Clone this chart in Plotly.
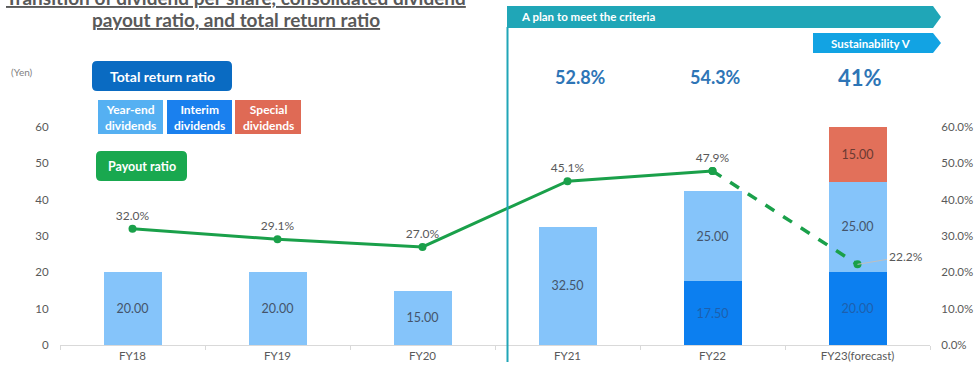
import plotly.graph_objects as go

# ---------------- data ----------------
categories = ["FY18", "FY19", "FY20", "FY21", "FY22", "FY23(forecast)"]
year_end = [20.0, 20.0, 15.0, 32.5, 25.0, 25.0]
interim = [None, None, None, None, 17.5, 20.0]
special = [None, None, None, None, None, 15.0]
payout_ratio = [32.0, 29.1, 27.0, 45.1, 47.9, 22.2]
total_return_cats = ["FY21", "FY22", "FY23(forecast)"]
total_return = ["52.8%", "54.3%", "41%"]
left_ticks = [0, 10, 20, 30, 40, 50, 60]

# ---------------- geometry helpers (pixel -> paper) ----------------
W, H = 978, 372
ML, MR, MT, MB = 60, 48, 127, 27
PW, PH = W - ML - MR, H - MT - MB


def X(px):
    return (px - ML) / PW


def Y(py):
    return (H - MB - py) / PH


def rrect(x0, y0, x1, y1, r):
    rx, ry = r / PW, r / PH
    a0, a1, b0, b1 = X(x0), X(x1), Y(y1), Y(y0)  # b0 bottom, b1 top
    return (f"M{a0+rx},{b0} L{a1-rx},{b0} Q{a1},{b0} {a1},{b0+ry} "
            f"L{a1},{b1-ry} Q{a1},{b1} {a1-rx},{b1} L{a0+rx},{b1} "
            f"Q{a0},{b1} {a0},{b1-ry} L{a0},{b0+ry} Q{a0},{b0} {a0+rx},{b0} Z")


def banner(x0, y0, x1, tip, y1):
    ym = (y0 + y1) / 2
    return (f"M{X(x0)},{Y(y0)} L{X(x1)},{Y(y0)} L{X(tip)},{Y(ym)} "
            f"L{X(x1)},{Y(y1)} L{X(x0)},{Y(y1)} Z")


FONT = "Lato"
C_YE = "#85C4FA"
C_IN = "#0C7FF0"
C_SP = "#E2705A"
C_GREEN = "#1AA04A"
C_TEAL = "#20A6B7"

fig = go.Figure()

fig.add_trace(go.Bar(x=categories, y=interim, marker_color=C_IN, width=0.4,
                     text=[f"{v:.2f}" if v else "" for v in interim],
                     textposition="inside", insidetextanchor="middle",
                     textfont=dict(color="#1D5FAE", size=12.5, family=FONT),
                     marker_line_width=0))
fig.add_trace(go.Bar(x=categories, y=year_end, marker_color=C_YE, width=0.4,
                     text=[f"{v:.2f}" for v in year_end],
                     textposition="inside", insidetextanchor="middle",
                     textfont=dict(color="#44546A", size=12.5, family=FONT),
                     marker_line_width=0))
fig.add_trace(go.Bar(x=categories, y=special, marker_color=C_SP, width=0.4,
                     text=[f"{v:.2f}" if v else "" for v in special],
                     textposition="inside", insidetextanchor="middle",
                     textfont=dict(color="#6A3A32", size=12.5, family=FONT),
                     marker_line_width=0))

# payout ratio: solid part FY18-FY22
fig.add_trace(go.Scatter(x=categories[:5], y=payout_ratio[:5], yaxis="y2",
                         mode="lines+markers+text",
                         line=dict(color=C_GREEN, width=3),
                         marker=dict(color=C_GREEN, size=8),
                         text=[f"{v:.1f}%" for v in payout_ratio[:5]],
                         textposition="top center",
                         textfont=dict(color="#595959", size=12, family=FONT),
                         cliponaxis=False))
# dashed forecast part
fig.add_trace(go.Scatter(x=categories[4:], y=payout_ratio[4:], yaxis="y2",
                         mode="lines+markers",
                         line=dict(color=C_GREEN, width=3.5, dash="dash"),
                         marker=dict(color=C_GREEN, size=8),
                         cliponaxis=False))

shapes = []
annotations = []

# title (first line is cut at the top edge, as in the reference)
annotations.append(dict(xref="paper", yref="paper", x=X(236), y=Y(-3),
                        text="<b><u>Transition of dividend per share, consolidated dividend</u></b>",
                        showarrow=False, font=dict(size=19, color="#595959", family=FONT),
                        xanchor="center", yanchor="middle"))
annotations.append(dict(xref="paper", yref="paper", x=X(236), y=Y(20),
                        text="<b><u>payout ratio, and total return ratio</u></b>",
                        showarrow=False, font=dict(size=19, color="#595959", family=FONT),
                        xanchor="center", yanchor="middle"))

# (Yen)
annotations.append(dict(xref="paper", yref="paper", x=X(22), y=Y(72), text="(Yen)",
                        showarrow=False, font=dict(size=10, color="#7F7F7F", family=FONT),
                        xanchor="center", yanchor="middle"))

# legend boxes
legend_boxes = [
    (92, 61, 232, 91, 5, "#0A6BC2", "<b>Total return ratio</b>", 14),
    (98, 100, 163, 134, 0, "#55B0F2", "<b>Year-end<br>dividends</b>", 12),
    (167, 100, 232, 134, 0, "#1A80EE", "<b>Interim<br>dividends</b>", 12),
    (235, 100, 301, 134, 0, "#DF6A55", "<b>Special<br>dividends</b>", 12),
    (96, 151, 187, 181, 5, "#19A84F", "<b>Payout ratio</b>", 12.5),
]
for x0, y0, x1, y1, r, col, txt, fs in legend_boxes:
    if r:
        shapes.append(dict(type="path", xref="paper", yref="paper",
                           path=rrect(x0, y0, x1, y1, r), fillcolor=col, line_width=0))
    else:
        shapes.append(dict(type="rect", xref="paper", yref="paper",
                           x0=X(x0), x1=X(x1), y0=Y(y1), y1=Y(y0), fillcolor=col, line_width=0))
    annotations.append(dict(xref="paper", yref="paper", x=X((x0 + x1) / 2), y=Y((y0 + y1) / 2),
                            text=txt, showarrow=False, xanchor="center", yanchor="middle",
                            font=dict(size=fs, color="white", family=FONT)))

# banners
shapes.append(dict(type="path", xref="paper", yref="paper",
                   path=banner(507, 6, 933, 941, 28), fillcolor=C_TEAL, line_width=0))
shapes.append(dict(type="path", xref="paper", yref="paper",
                   path=banner(813, 33, 933, 941, 53), fillcolor="#12A3E3", line_width=0))
shapes.append(dict(type="line", xref="paper", yref="paper",
                   x0=X(507.5), x1=X(507.5), y0=Y(27), y1=Y(362),
                   line=dict(color=C_TEAL, width=2)))
annotations.append(dict(xref="paper", yref="paper", x=X(519), y=Y(17),
                        text="<b>A plan to meet the criteria</b>", showarrow=False,
                        xanchor="left", yanchor="middle",
                        font=dict(size=11.5, color="white", family=FONT)))
annotations.append(dict(xref="paper", yref="paper", x=X(871), y=Y(43),
                        text="<b>Sustainability V</b>", showarrow=False,
                        xanchor="center", yanchor="middle",
                        font=dict(size=11.5, color="white", family=FONT)))

# total return ratios
tr_shift = [13, 3, 2]
tr_size = [18, 18, 22]
for c, t, s, fs in zip(total_return_cats, total_return, tr_shift, tr_size):
    annotations.append(dict(xref="x", yref="paper", x=c, y=Y(77), xshift=s,
                            text=f"<b>{t}</b>", showarrow=False,
                            xanchor="center", yanchor="middle",
                            font=dict(size=fs, color="#2E75B6", family=FONT)))

# FY23 payout label with leader
annotations.append(dict(xref="x", yref="y2", x=categories[5], y=payout_ratio[5],
                        text=f"{payout_ratio[5]:.1f}%", showarrow=True, arrowhead=0,
                        arrowcolor="#BFBFBF", arrowwidth=1, ax=48, ay=-8,
                        xanchor="center", yanchor="middle",
                        font=dict(size=12, color="#595959", family=FONT)))

fig.update_layout(
    width=W, height=H,
    margin=dict(l=ML, r=MR, t=MT, b=MB, autoexpand=False),
    barmode="stack",
    showlegend=False,
    plot_bgcolor="white", paper_bgcolor="white",
    font=dict(family=FONT, color="#595959"),
    shapes=shapes, annotations=annotations,
    xaxis=dict(type="category", categoryorder="array", categoryarray=categories,
               showgrid=False, showline=True, linecolor="#D9D9D9", linewidth=1,
               ticks="outside", tickson="boundaries", ticklen=4, tickcolor="#D9D9D9",
               tickfont=dict(size=11.5, color="#595959", family=FONT), zeroline=False,
               automargin=False),
    yaxis=dict(range=[0, 60], tickvals=left_ticks, showgrid=False, zeroline=False,
               showline=False, ticks="outside", ticklen=8, tickcolor="rgba(0,0,0,0)",
               tickfont=dict(size=11.5, color="#595959", family=FONT), automargin=False),
    yaxis2=dict(range=[0, 60], overlaying="y", side="right", tickvals=left_ticks,
                ticktext=[f"{v:.1f}%" for v in left_ticks],
                showgrid=False, zeroline=False, showline=False,
                ticks="outside", ticklen=8, tickcolor="rgba(0,0,0,0)",
                tickfont=dict(size=11.5, color="#595959", family=FONT), automargin=False),
)

fig.write_html("out.html")
